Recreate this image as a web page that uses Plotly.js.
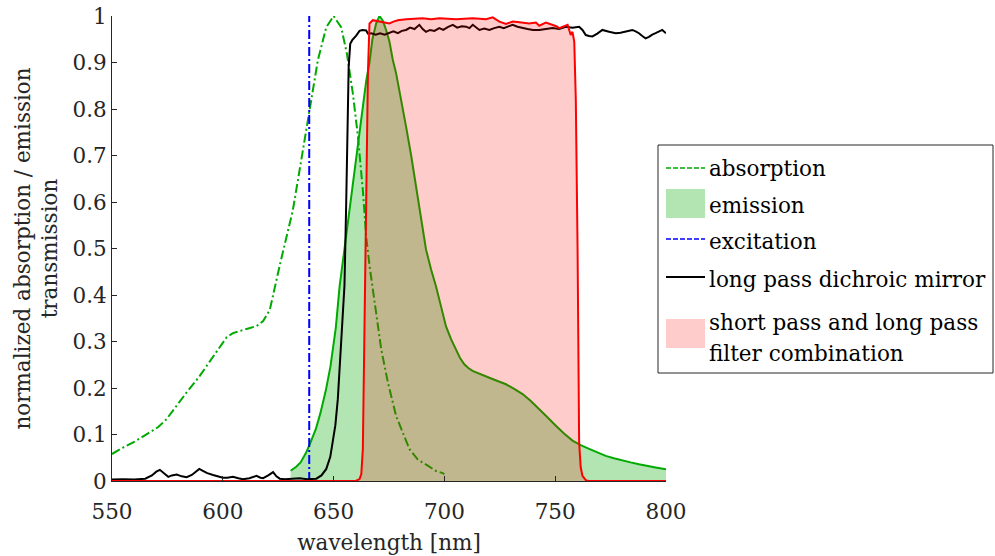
<!DOCTYPE html>
<html><head><meta charset="utf-8">
<script src="https://cdn.plot.ly/plotly-3.0.1.min.js"></script>
<style>html,body{margin:0;padding:0;background:#fff}#chart{width:995px;height:556px}</style>
</head><body><div id="chart"></div>
<script>
// ---------- data ----------
const absorptionWl = [550, 555, 559.6, 563.5, 567.1, 570.9, 574.6, 579.1, 583.6, 589.6, 595.6, 598.6, 601.7, 604.6, 607.7, 611.5, 615.2, 618.2, 621.2, 623.3, 626, 628.5, 631.6, 635.4, 639.1, 642.9, 646.7, 650, 653.4, 656, 658.7, 661, 663.2, 664.7, 666.3, 668.3, 669.7, 671.5, 674.5, 678.2, 684.2, 688, 692.5, 696, 699.2, 700];
const absorptionVal = [0.058, 0.072, 0.083, 0.094, 0.106, 0.116, 0.133, 0.162, 0.190, 0.226, 0.267, 0.289, 0.309, 0.318, 0.323, 0.328, 0.333, 0.344, 0.368, 0.415, 0.47, 0.52, 0.582, 0.69, 0.797, 0.905, 0.976, 1.0, 0.976, 0.919, 0.833, 0.74, 0.625, 0.525, 0.46, 0.39, 0.345, 0.283, 0.212, 0.140, 0.069, 0.046, 0.033, 0.022, 0.017, 0.015];

const emissionWl = [630.6, 633, 635.1, 637.5, 639.6, 642, 644.1, 646.5, 648.6, 651, 652.7, 655.4, 657.5, 659.9, 662.3, 664.7, 666.2, 667.5, 669.2, 670.7, 672.2, 673.7, 675.2, 676.7, 678.2, 679.7, 682.7, 685, 687.2, 689.5, 691.7, 694, 696.2, 698.5, 700.7, 703, 705.2, 707, 709, 710.8, 712.7, 716.5, 720.3, 724, 727.8, 731.5, 735.3, 739, 742.8, 746.5, 750.3, 754, 757.8, 761.5, 765.3, 769, 772.8, 776.5, 780.3, 784, 787.8, 791.5, 795.3, 800];
const emissionVal = [0.022, 0.030, 0.040, 0.060, 0.083, 0.112, 0.147, 0.195, 0.247, 0.33, 0.418, 0.52, 0.60, 0.68, 0.77, 0.86, 0.90, 0.95, 0.984, 1.0, 0.99, 0.97, 0.945, 0.906, 0.877, 0.84, 0.762, 0.70, 0.634, 0.565, 0.498, 0.455, 0.419, 0.375, 0.333, 0.305, 0.283, 0.265, 0.251, 0.243, 0.237, 0.229, 0.222, 0.215, 0.208, 0.198, 0.187, 0.172, 0.155, 0.137, 0.119, 0.102, 0.087, 0.077, 0.069, 0.061, 0.054, 0.049, 0.044, 0.040, 0.036, 0.032, 0.029, 0.025];

const excitationWl = [639, 639];
const excitationVal = [0, 1];

const mirrorWl = [550, 555, 560, 565, 568, 570, 571.6, 573, 575.4, 577, 579.2, 581.5, 583.7, 586, 587.8, 589.4, 591, 593, 595.6, 598, 600, 602, 604.6, 607, 609.1, 612, 613.8, 615.2, 617, 618.2, 620.5, 622.7, 624.2, 625.7, 628, 630, 632, 634.7, 638, 642.2, 644.5, 646.7, 648.5, 649.7, 650.8, 651.9, 653, 653.9, 654.9, 655.7, 656.2, 656.8, 657.5, 658.4, 660.2, 661.7, 663, 664.7, 665.5, 667, 669, 671, 673, 675.2, 677, 679, 680.8, 682.7, 684.5, 686.5, 688.7, 690.2, 691.7, 693.5, 695.5, 697.7, 699.5, 701.5, 703.8, 705.8, 707.8, 709.8, 711.3, 712.8, 714.3, 715.8, 718, 720.3, 722.5, 724.8, 726.8, 728.8, 730.8, 733, 735.3, 737.5, 740, 742.8, 745.8, 748.8, 751.8, 754.8, 757.8, 760.8, 762.3, 763.8, 765.3, 766.8, 769, 771.3, 774.3, 777.3, 779.5, 781.8, 783.3, 784.8, 786.3, 787.8, 789.3, 790.8, 792.3, 793.8, 795.3, 796.8, 798.3, 800];
const mirrorVal = [0.003, 0.004, 0.003, 0.005, 0.012, 0.020, 0.024, 0.018, 0.009, 0.012, 0.014, 0.010, 0.008, 0.013, 0.021, 0.026, 0.022, 0.017, 0.013, 0.010, 0.007, 0.007, 0.009, 0.006, 0.004, 0.006, 0.009, 0.011, 0.007, 0.006, 0.012, 0.019, 0.010, 0.005, 0.004, 0.005, 0.006, 0.006, 0.004, 0.005, 0.012, 0.026, 0.052, 0.083, 0.12, 0.176, 0.27, 0.36, 0.42, 0.6, 0.75, 0.89, 0.94, 0.948, 0.958, 0.968, 0.970, 0.969, 0.962, 0.963, 0.960, 0.963, 0.960, 0.963, 0.967, 0.963, 0.968, 0.970, 0.975, 0.972, 0.981, 0.972, 0.966, 0.970, 0.968, 0.974, 0.970, 0.976, 0.981, 0.975, 0.978, 0.977, 0.974, 0.981, 0.976, 0.970, 0.973, 0.970, 0.974, 0.977, 0.974, 0.978, 0.981, 0.977, 0.974, 0.972, 0.970, 0.970, 0.972, 0.974, 0.972, 0.977, 0.975, 0.977, 0.970, 0.959, 0.957, 0.956, 0.962, 0.970, 0.966, 0.963, 0.964, 0.966, 0.968, 0.970, 0.967, 0.963, 0.957, 0.952, 0.955, 0.960, 0.963, 0.967, 0.970, 0.963];

const filterWl = [550, 600, 650, 660, 661.7, 662.5, 663.2, 664, 664.7, 665.5, 666.2, 667.7, 669, 670.7, 672.5, 675.2, 677, 679, 682.7, 686, 690.2, 694, 697.7, 701.5, 705.3, 709, 712.8, 716, 718.8, 721.8, 724.8, 727.8, 730.8, 733, 735.3, 738.3, 741.3, 742.8, 745.8, 748.8, 750.5, 751.8, 753.5, 755.6, 757, 757.8, 758.6, 759.3, 760.1, 760.8, 761.5, 762.3, 763.8, 765, 800];
const filterVal = [0, 0, 0, 0, 0.004, 0.015, 0.069, 0.4, 0.6, 0.88, 0.984, 0.991, 0.990, 0.988, 0.987, 0.984, 0.988, 0.991, 0.993, 0.994, 0.995, 0.993, 0.995, 0.994, 0.993, 0.994, 0.995, 0.994, 0.993, 0.997, 0.988, 0.983, 0.988, 0.987, 0.986, 0.984, 0.986, 0.979, 0.986, 0.981, 0.978, 0.974, 0.977, 0.981, 0.959, 0.966, 0.945, 0.82, 0.498, 0.083, 0.03, 0.011, 0.002, 0, 0];

const xTickVals = [550, 600, 650, 700, 750, 800];
const xTickText = ['550', '600', '650', '700', '750', '800'];
const yTickVals = [0, 0.1, 0.2, 0.3, 0.4, 0.5, 0.6, 0.7, 0.8, 0.9, 1];
const yTickText = ['0', '0.1', '0.2', '0.3', '0.4', '0.5', '0.6', '0.7', '0.8', '0.9', '1'];

const legendLabels = ['absorption', 'emission', 'excitation', 'long pass dichroic mirror', 'short pass and long pass', 'filter combination'];

// ---------- styles ----------
const GREEN = 'rgb(0,170,0)';
const GREEN_FILL = 'rgba(0,170,0,0.3)';
const RED = 'rgb(255,0,0)';
const RED_FILL = 'rgba(255,0,0,0.2)';
const BLUE = 'rgb(0,0,255)';
const DASHDOT = '9px,3px,2px,3px';
const FONT = 'DejaVu Serif, serif';
const FS = 21.5;
const AX = '#262626';
const LW = 2;

const traces = [
  {x: absorptionWl, y: absorptionVal, type: 'scatter', mode: 'lines', name: 'absorption',
   line: {color: GREEN, width: LW, dash: DASHDOT}},
  {x: emissionWl, y: emissionVal, type: 'scatter', mode: 'lines', name: 'emission',
   fill: 'tozeroy', fillcolor: GREEN_FILL, line: {color: GREEN, width: LW}},
  {x: excitationWl, y: excitationVal, type: 'scatter', mode: 'lines', name: 'excitation',
   line: {color: BLUE, width: LW, dash: DASHDOT}},
  {x: mirrorWl, y: mirrorVal, type: 'scatter', mode: 'lines', name: 'long pass dichroic mirror',
   line: {color: '#000', width: LW}},
  {x: filterWl, y: filterVal, type: 'scatter', mode: 'lines', name: 'short pass and long pass filter combination',
   fill: 'tozeroy', fillcolor: RED_FILL, line: {color: RED, width: LW}}
];

// pixel -> paper helpers for the hand-drawn legend box
const L = 112, R = 666, T = 16, B = 481;
const px = v => (v - L) / (R - L);
const py = v => (B - v) / (B - T);

const shapes = [
  {type: 'rect', xref: 'paper', yref: 'paper', x0: px(658), x1: px(993), y0: py(145), y1: py(373),
   line: {color: AX, width: 1}, fillcolor: '#fff', layer: 'above'},
  {type: 'line', xref: 'paper', yref: 'paper', x0: px(666), x1: px(705), y0: py(168), y1: py(168),
   line: {color: GREEN, width: 1.6, dash: '5px,2px'}},
  {type: 'rect', xref: 'paper', yref: 'paper', x0: px(666), x1: px(705), y0: py(189), y1: py(218),
   line: {width: 0}, fillcolor: GREEN_FILL},
  {type: 'line', xref: 'paper', yref: 'paper', x0: px(666), x1: px(705), y0: py(239), y1: py(239),
   line: {color: BLUE, width: 1.6, dash: '5px,2px'}},
  {type: 'line', xref: 'paper', yref: 'paper', x0: px(666), x1: px(705), y0: py(277), y1: py(277),
   line: {color: '#000', width: 1.8}},
  {type: 'rect', xref: 'paper', yref: 'paper', x0: px(666), x1: px(705), y0: py(319), y1: py(348),
   line: {width: 0}, fillcolor: RED_FILL}
];

const legendY = [168, 205, 241, 279, 322, 353];
const annotations = legendLabels.map((t, i) => ({
  text: t, xref: 'paper', yref: 'paper', x: px(707), y: py(legendY[i]),
  xanchor: 'left', yanchor: 'middle', showarrow: false,
  font: {family: FONT, size: FS, color: '#000'}
}));

const layout = {
  width: 995, height: 556,
  margin: {l: L, r: 995 - R, t: T, b: 556 - B, pad: 0},
  paper_bgcolor: '#fff', plot_bgcolor: '#fff',
  showlegend: false,
  font: {family: FONT, size: FS, color: AX},
  xaxis: {
    range: [550, 800], tickmode: 'array', tickvals: xTickVals, ticktext: xTickText,
    ticks: 'inside', ticklen: 5, tickwidth: 1, tickcolor: AX, ticklabelstandoff: 11,
    showline: true, linecolor: AX, linewidth: 1, showgrid: false, zeroline: false,
    tickfont: {family: FONT, size: FS, color: AX},
    title: {text: 'wavelength [nm]', font: {family: FONT, size: FS, color: AX}, standoff: 12}
  },
  yaxis: {
    range: [0, 1], tickmode: 'array', tickvals: yTickVals, ticktext: yTickText,
    ticks: 'inside', ticklen: 5, tickwidth: 1, tickcolor: AX,
    showline: true, linecolor: AX, linewidth: 1, showgrid: false, zeroline: false,
    tickfont: {family: FONT, size: FS, color: AX},
    title: {text: 'normalized absorption / emission<br>transmission', font: {family: FONT, size: FS, color: AX}, standoff: 8}
  },
  shapes: shapes,
  annotations: annotations
};

Plotly.newPlot('chart', traces, layout, {displayModeBar: false, staticPlot: true});
</script>
</body></html>
